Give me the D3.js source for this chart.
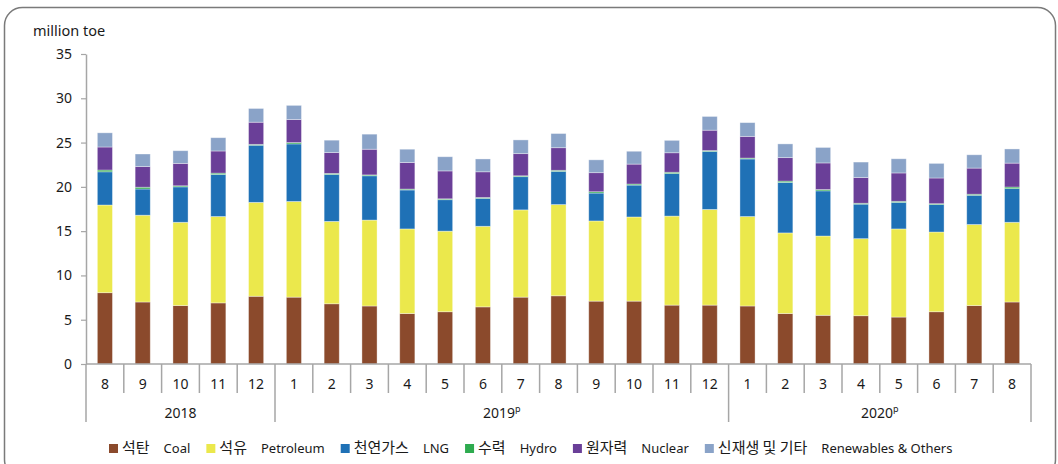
<!DOCTYPE html>
<html>
<head>
<meta charset="utf-8">
<script src="https://cdn.jsdelivr.net/npm/d3@7"></script>
<style>
  html, body { margin: 0; padding: 0; background: #fff; }
  svg text { font-family: "Noto Sans CJK KR", "Noto Sans", sans-serif; fill: #1a1a1a; }
</style>
</head>
<body>
<svg id="chart" width="1058" height="464"></svg>
<script>
// monthly primary energy supply, million toe
var months = ['8', '9', '10', '11', '12', '1', '2', '3', '4', '5', '6', '7', '8', '9', '10', '11', '12', '1', '2', '3', '4', '5', '6', '7', '8'];
var years = ['2018', '2018', '2018', '2018', '2018',
  '2019', '2019', '2019', '2019', '2019', '2019', '2019', '2019', '2019', '2019', '2019', '2019',
  '2020', '2020', '2020', '2020', '2020', '2020', '2020', '2020'];
var yearLabels = [
  { year: '2018', sup: '' },
  { year: '2019', sup: 'p' },
  { year: '2020', sup: 'p' }
];

var coal = [8.05, 7.0, 6.6, 6.9, 7.65, 7.55, 6.8, 6.55, 5.7, 5.9, 6.45, 7.55, 7.7, 7.1, 7.1, 6.65, 6.65, 6.55, 5.7, 5.5, 5.45, 5.3, 5.9, 6.6, 7.0];
var petroleum = [9.9, 9.8, 9.4, 9.75, 10.6, 10.8, 9.3, 9.7, 9.55, 9.1, 9.1, 9.85, 10.3, 9.05, 9.5, 10.05, 10.8, 10.1, 9.1, 8.95, 8.7, 9.95, 9.0, 9.15, 9.0];
var lng = [3.75, 2.96, 4.0, 4.75, 6.45, 6.5, 5.3, 5.0, 4.4, 3.55, 3.15, 3.75, 3.75, 3.15, 3.6, 4.8, 6.55, 6.5, 5.7, 5.1, 3.9, 3.0, 3.1, 3.3, 3.8];
var hydro = [0.2, 0.2, 0.12, 0.15, 0.1, 0.15, 0.12, 0.1, 0.1, 0.1, 0.1, 0.1, 0.12, 0.15, 0.12, 0.15, 0.1, 0.1, 0.15, 0.15, 0.1, 0.12, 0.1, 0.12, 0.18];
var nuclear = [2.6, 2.33, 2.53, 2.5, 2.5, 2.6, 2.35, 2.9, 3.0, 3.15, 2.9, 2.5, 2.55, 2.15, 2.25, 2.2, 2.3, 2.45, 2.65, 3.0, 2.9, 3.2, 2.9, 2.95, 2.7];
var renewables = [1.6, 1.42, 1.43, 1.5, 1.55, 1.6, 1.4, 1.7, 1.5, 1.6, 1.45, 1.55, 1.6, 1.45, 1.45, 1.4, 1.55, 1.55, 1.55, 1.75, 1.75, 1.6, 1.65, 1.5, 1.6];

var yTicks = [0, 5, 10, 15, 20, 25, 30, 35];

var series = [
  { key: 'coal', ko: '석탄', en: 'Coal', color: '#8b4a2c', values: coal },
  { key: 'petroleum', ko: '석유', en: 'Petroleum', color: '#ebe84c', values: petroleum },
  { key: 'lng', ko: '천연가스', en: 'LNG', color: '#1f71b6', values: lng },
  { key: 'hydro', ko: '수력', en: 'Hydro', color: '#2eab4f', values: hydro },
  { key: 'nuclear', ko: '원자력', en: 'Nuclear', color: '#6a3f98', values: nuclear },
  { key: 'renewables', ko: '신재생 및 기타', en: 'Renewables & Others', color: '#8aa3c8', values: renewables }
];

var svg = d3.select('#chart');

// rounded frame, partly cut off at the bottom and right
svg.append('rect')
  .attr('x', 4.5)
  .attr('y', 7.5)
  .attr('width', 1051)
  .attr('height', 470)
  .attr('rx', 18)
  .attr('fill', 'none')
  .attr('stroke', '#7a7a7a')
  .attr('stroke-width', 1.5);

var rows = months.map(function(m, i) {
  var row = { idx: i };
  series.forEach(function(s) { row[s.key] = s.values[i]; });
  return row;
});

var x = d3.scaleBand()
  .domain(d3.range(months.length))
  .range([86, 1031])
  .paddingInner(0.6)
  .paddingOuter(0.3);

var y = d3.scaleLinear()
  .domain([0, 35])
  .range([364, 54]);

var stack = d3.stack().keys(series.map(function(s) { return s.key; }));
var layers = stack(rows);

svg.append('g')
  .selectAll('g')
  .data(layers)
  .join('g')
  .attr('fill', function(d, i) { return series[i].color; })
  .selectAll('rect')
  .data(function(d) { return d; })
  .join('rect')
  .attr('x', function(d) { return x(d.data.idx); })
  .attr('y', function(d) { return y(d[1]); })
  .attr('width', x.bandwidth())
  .attr('height', function(d) { return y(d[0]) - y(d[1]); })
  .attr('stroke', 'rgba(255,255,255,0.45)')
  .attr('stroke-width', 0.8);

// y axis
var yAxis = svg.append('g')
  .attr('transform', 'translate(86,0)')
  .call(d3.axisLeft(y).tickValues(yTicks).tickSize(5).tickSizeOuter(0).tickPadding(9));
yAxis.select('.domain').attr('stroke', '#a6a6a6').attr('stroke-width', 1.5);
yAxis.selectAll('.tick line').attr('stroke', '#a6a6a6').attr('stroke-width', 1.2);
yAxis.selectAll('.tick text')
  .style('font-size', '14px')
  .style('font-family', '"Noto Sans", sans-serif')
  .attr('fill', '#1a1a1a');

svg.append('text')
  .attr('x', 33)
  .attr('y', 36)
  .style('font-size', '14.5px')
  .style('font-family', '"Noto Sans", sans-serif')
  .text('million toe');

// x axis line
var step = x.step();
var x0 = x.range()[0];
svg.append('line')
  .attr('x1', x0)
  .attr('x2', x.range()[1])
  .attr('y1', 364)
  .attr('y2', 364)
  .attr('stroke', '#a6a6a6')
  .attr('stroke-width', 1.5);

// separators between months; longer ones between years
var bounds = d3.range(months.length + 1);
svg.append('g')
  .selectAll('line')
  .data(bounds)
  .join('line')
  .attr('x1', function(b) { return x0 + b * step; })
  .attr('x2', function(b) { return x0 + b * step; })
  .attr('y1', 364)
  .attr('y2', function(b) {
    var isYear = b === 0 || b === months.length || years[b] !== years[b - 1];
    return isYear ? 422 : 393;
  })
  .attr('stroke', '#a6a6a6')
  .attr('stroke-width', 1.5);

svg.append('g')
  .selectAll('text')
  .data(months)
  .join('text')
  .attr('x', function(m, i) { return x(i) + x.bandwidth() / 2; })
  .attr('y', 389)
  .attr('text-anchor', 'middle')
  .style('font-size', '14px')
  .style('font-family', '"Noto Sans", sans-serif')
  .text(function(m) { return m; });

// year labels centred on their month span
var yearGroups = yearLabels.map(function(yl) {
  var idx = years.map(function(v, i) { return v === yl.year ? i : -1; }).filter(function(i) { return i >= 0; });
  var start = x0 + d3.min(idx) * step;
  var end = x0 + (d3.max(idx) + 1) * step;
  return { label: yl, mid: (start + end) / 2 };
});

var yearText = svg.append('g')
  .selectAll('text')
  .data(yearGroups)
  .join('text')
  .attr('x', function(d) { return d.mid; })
  .attr('y', 418)
  .attr('text-anchor', 'middle')
  .style('font-size', '14px')
  .style('font-family', '"Noto Sans", sans-serif');
yearText.append('tspan').text(function(d) { return d.label.year; });
yearText.append('tspan')
  .attr('dy', -6)
  .style('font-size', '9px')
  .text(function(d) { return d.label.sup; });

// legend, laid out left to right from measured text widths
var legend = svg.append('g');
var lx = 109;
var ly = 453;
series.forEach(function(s) {
  legend.append('rect')
    .attr('x', lx)
    .attr('y', ly - 9)
    .attr('width', 9)
    .attr('height', 9)
    .attr('fill', s.color);
  lx += 13;
  var ko = legend.append('text')
    .attr('x', lx)
    .attr('y', ly)
    .style('font-size', '15px')
    .text(s.ko);
  lx += ko.node().getComputedTextLength() + 14;
  var en = legend.append('text')
    .attr('x', lx)
    .attr('y', ly)
    .style('font-size', '13px')
    .style('font-family', '"Noto Sans", sans-serif')
    .text(s.en);
  lx += en.node().getComputedTextLength() + 16;
});
</script>
</body>
</html>
